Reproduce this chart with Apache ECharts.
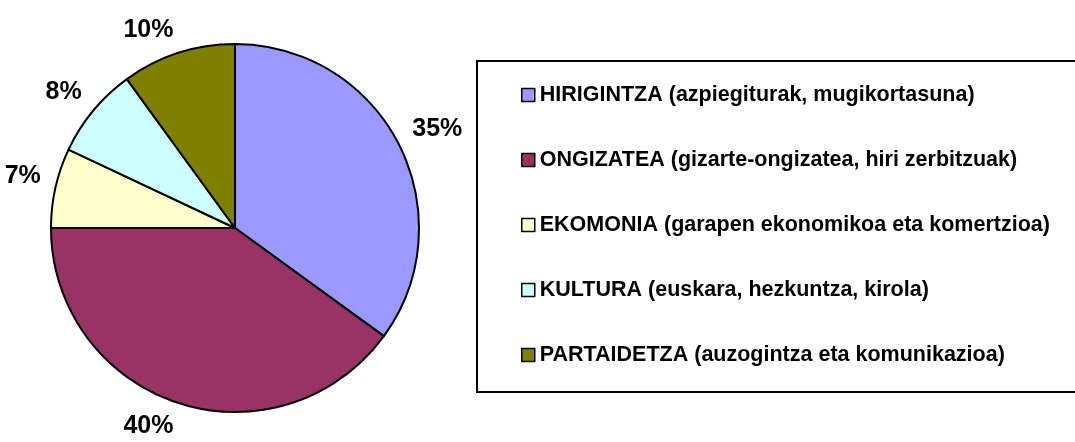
<!DOCTYPE html>
<html>
<head>
    <meta charset="UTF-8">
    <title></title>
    <script type="text/javascript" src="https://cdn.jsdelivr.net/npm/echarts@6/dist/echarts.min.js"></script>
    <style>
        html, body { margin: 0; padding: 0; background: #fff; }
    </style>
</head>
<body>

<div id="main" style="height: 442px; width: 1075px;"></div>
<script type="text/javascript">

    // datos del grafico
    var categories = [
        'HIRIGINTZA (azpiegiturak, mugikortasuna)',
        'ONGIZATEA (gizarte-ongizatea, hiri zerbitzuak)',
        'EKOMONIA (garapen ekonomikoa eta komertzioa)',
        'KULTURA (euskara, hezkuntza, kirola)',
        'PARTAIDETZA (auzogintza eta komunikazioa)'
    ];
    var values = [35, 40, 7, 8, 10];
    var colors = ['#9999FF', '#993366', '#FFFFCC', '#CCFFFF', '#808000'];

    var cx = 235, cy = 228, radius = 184;
    var labelDist = 199;
    var fontFam = 'Arial, "Liberation Sans", sans-serif';

    var total = values.reduce(function (a, b) { return a + b; }, 0);

    var myChart = echarts.init(document.getElementById('main'));

    var pieData = [];
    for (var i = 0; i < categories.length; i++) {
        pieData.push({
            name: categories[i],
            value: values[i],
            itemStyle: { color: colors[i] }
        });
    }

    // etiquetas fuera, esquina mas cercana sobre el radio medio
    function placeLabel(params) {
        var before = 0;
        for (var k = 0; k < params.dataIndex; k++) before += values[k];
        var mid = (before + values[params.dataIndex] / 2) / total * Math.PI * 2;
        var s = Math.sin(mid), c = Math.cos(mid);
        var px = cx + labelDist * s;
        var py = cy - labelDist * c;
        var capHalf = 8.8;
        return {
            x: px,
            y: c > 0 ? py - capHalf : py + capHalf,
            align: s >= 0 ? 'left' : 'right',
            verticalAlign: 'middle'
        };
    }

    var option = {
        animation: false,
        legend: {
            orient: 'vertical',
            left: 477,
            top: 61,
            padding: [23, 70, 26, 44],
            itemGap: 43,
            itemWidth: 13,
            itemHeight: 13,
            icon: 'rect',
            borderColor: '#000',
            borderWidth: 2,
            selectedMode: false,
            itemStyle: { borderColor: '#000', borderWidth: 1.5 },
            textStyle: {
                color: '#000',
                fontSize: 21.5,
                fontWeight: 'bold',
                fontFamily: fontFam,
                lineHeight: 22
            },
            data: categories
        },
        series: [{
            type: 'pie',
            center: [cx, cy],
            radius: radius,
            startAngle: 90,
            clockwise: true,
            avoidLabelOverlap: false,
            itemStyle: {
                borderColor: '#000',
                borderWidth: 2
            },
            label: {
                show: true,
                position: 'outside',
                formatter: function (p) { return p.value + '%'; },
                color: '#000',
                fontSize: 25,
                fontWeight: 'bold',
                fontFamily: fontFam
            },
            labelLine: { show: false },
            labelLayout: placeLabel,
            emphasis: { disabled: true },
            data: pieData
        }]
    };

    myChart.setOption(option);

</script>

</body>
</html>
